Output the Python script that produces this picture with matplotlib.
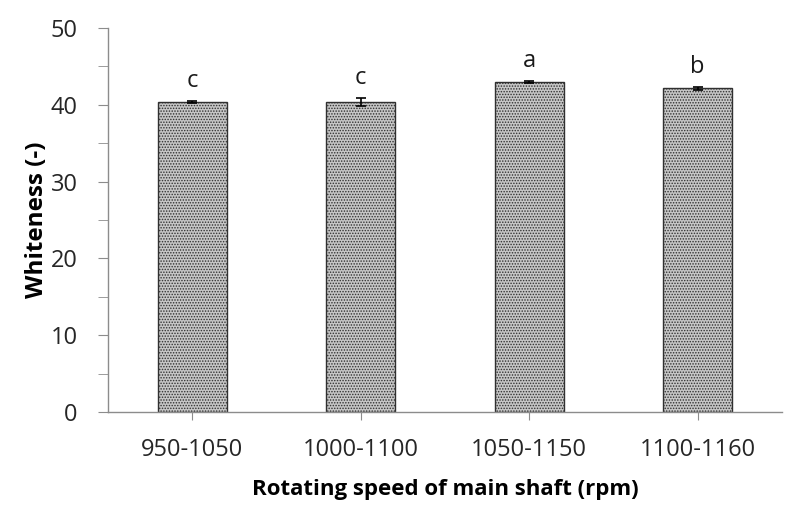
import matplotlib.pyplot as plt

# speed ranges and measured whiteness
categories = ['950-1050', '1000-1100', '1050-1150', '1100-1160']
whiteness = [40.35, 40.35, 42.95, 42.15]
errors = [0.15, 0.5, 0.15, 0.2]
letters = ['c', 'c', 'a', 'b']

plt.rcParams['font.family'] = ['Open Sans', 'DejaVu Sans']
plt.rcParams['hatch.color'] = '#6a6a6a'
plt.rcParams['hatch.linewidth'] = 0.7

fig = plt.figure(figsize=(8, 5.16), dpi=100)
ax = fig.add_axes([0.135, 0.2016, 0.8425, 0.7441])

x = range(len(categories))
ax.bar(x, whiteness, width=0.41, color='#c6c6c6', edgecolor='#303030',
       linewidth=1.0, hatch='......', zorder=2)
ax.errorbar(x, whiteness, yerr=errors, fmt='none', ecolor='black',
            elinewidth=1.2, capsize=3.5, capthick=1.2, zorder=3)

for xi, v, e, lab in zip(x, whiteness, errors, letters):
    ax.text(xi, v + e + 1.8, lab, ha='center', va='baseline', fontsize=17,
            color='#1a1a1a')

ax.set_xlim(-0.5, len(categories) - 0.5)
ax.set_ylim(0, 50)
ax.set_yticks(range(0, 51, 10))
ax.set_yticks(range(5, 50, 10), minor=True)
ax.set_xticks(list(x))
ax.set_xticklabels(categories)

for side in ('top', 'right'):
    ax.spines[side].set_visible(False)
for side in ('left', 'bottom'):
    ax.spines[side].set_color('#8c8c8c')
    ax.spines[side].set_linewidth(1.0)

ax.tick_params(axis='y', which='both', direction='out', length=7,
               color='#8c8c8c', labelsize=17, labelcolor='#262626', pad=15)
ax.tick_params(axis='x', direction='out', length=6, color='#8c8c8c',
               labelsize=17, labelcolor='#262626', pad=13)

ax.set_ylabel('Whiteness (-)', fontsize=17.5, fontweight='bold', labelpad=1)
ax.set_xlabel('Rotating speed of main shaft (rpm)', fontsize=16,
              fontweight='bold', labelpad=12)

fig.savefig('out.png', dpi=100)
